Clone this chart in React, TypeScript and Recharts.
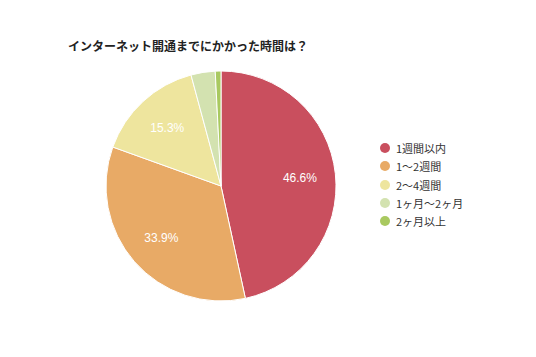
import { PieChart, Pie, Cell, Legend } from 'recharts'

const categories = ['1週間以内', '1〜2週間', '2〜4週間', '1ヶ月〜2ヶ月', '2ヶ月以上']
const shares = [46.6, 33.9, 15.3, 3.4, 0.8]
const colors = ['#C94F5E', '#E8AA66', '#EEE59E', '#D3E2B0', '#A9C960']

const data = categories.map((name, i) => ({ name, value: shares[i] }))

const FONT = '"Noto Sans CJK JP", "Noto Sans", sans-serif'
const RADIAN = Math.PI / 180

const renderLabel = (props: any) => {
  const { cx, cy, midAngle, outerRadius, value } = props
  if (value < 5) return null
  const r = outerRadius * 0.69
  const x = cx + r * Math.cos(-midAngle * RADIAN)
  const y = cy + r * Math.sin(-midAngle * RADIAN)
  return (
    <text
      x={x}
      y={y}
      fill="#fff"
      textAnchor="middle"
      dominantBaseline="central"
      fontSize={12}
      fontFamily='"Liberation Sans", Arial, sans-serif'
    >
      {value.toFixed(1)}%
    </text>
  )
}

const renderLegend = () => (
  <div style={{ fontFamily: FONT, fontSize: 11, color: '#333' }}>
    {categories.map((c, i) => (
      <div key={c} style={{ display: 'flex', alignItems: 'center', height: 18.3 }}>
        <span
          style={{
            width: 10,
            height: 10,
            borderRadius: '50%',
            background: colors[i],
            marginRight: 6,
          }}
        />
        {c}
      </div>
    ))}
  </div>
)

export default function App() {
  return (
    <div style={{ position: 'absolute', left: 0, top: 0, width: 536, height: 357, background: '#fff' }}>
      <div
        style={{
          position: 'absolute',
          left: 68,
          top: 37,
          fontFamily: FONT,
          fontSize: 12,
          fontWeight: 'bold',
          color: '#222',
        }}
      >
        インターネット開通までにかかった時間は？
      </div>
      <PieChart width={536} height={357} margin={{ top: 0, right: 0, bottom: 0, left: 0 }}>
        <Pie
          data={data}
          dataKey="value"
          nameKey="name"
          cx={221}
          cy={186}
          outerRadius={115}
          startAngle={90}
          endAngle={-270}
          stroke="#fff"
          strokeWidth={1}
          label={renderLabel}
          labelLine={false}
          isAnimationActive={false}
        >
          {data.map((d, i) => (
            <Cell key={d.name} fill={colors[i]} />
          ))}
        </Pie>
        <Legend
          content={renderLegend}
          layout="vertical"
          wrapperStyle={{ position: 'absolute', left: 380, top: 139, width: 120 }}
        />
      </PieChart>
    </div>
  )
}
